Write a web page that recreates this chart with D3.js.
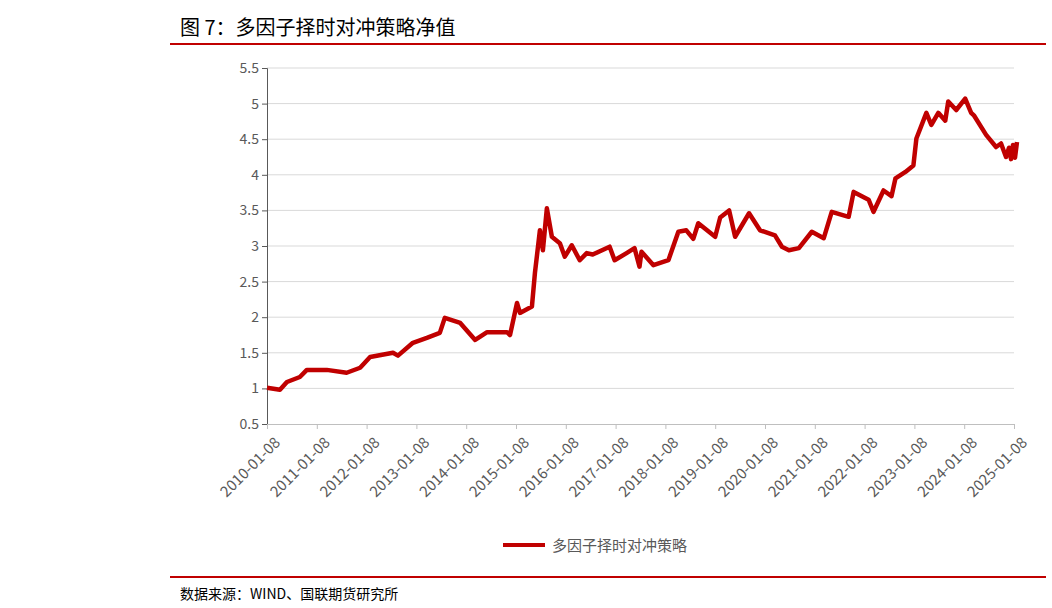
<!DOCTYPE html>
<html><head><meta charset="utf-8">
<script src="https://cdn.jsdelivr.net/npm/d3@7"></script>
<style>body{margin:0;background:#fff}text{font-family:"Noto Sans CJK SC","DejaVu Sans",sans-serif}</style>
</head><body><svg id="chart" width="1052" height="608"></svg>
<script>
// points: fractional year, net value
const years = [2010.0,2010.26,2010.4,2010.66,2010.8,2011.2,2011.6,2011.87,2012.07,2012.53,2012.63,2012.93,2013.21,2013.47,2013.57,2013.88,2014.18,2014.42,2014.82,2014.88,2015.02,2015.08,2015.32,2015.38,2015.48,2015.54,2015.62,2015.72,2015.88,2015.98,2016.12,2016.28,2016.42,2016.54,2016.88,2016.98,2017.22,2017.38,2017.48,2017.52,2017.76,2018.06,2018.26,2018.42,2018.56,2018.66,2019.0,2019.1,2019.28,2019.4,2019.68,2019.9,2020.2,2020.34,2020.48,2020.68,2020.94,2021.18,2021.34,2021.68,2021.78,2022.08,2022.18,2022.38,2022.54,2022.62,2022.82,2022.98,2023.04,2023.24,2023.34,2023.48,2023.62,2023.68,2023.84,2024.02,2024.14,2024.2,2024.44,2024.64,2024.74,2024.84,2024.9,2024.94,2024.98,2025.02,2025.06];
const values = [1.01,0.98,1.09,1.16,1.26,1.26,1.22,1.29,1.44,1.50,1.46,1.64,1.71,1.78,1.99,1.92,1.68,1.79,1.79,1.75,2.20,2.06,2.15,2.62,3.22,2.94,3.53,3.13,3.04,2.85,3.01,2.80,2.90,2.88,2.99,2.80,2.90,2.97,2.71,2.92,2.73,2.80,3.20,3.22,3.10,3.32,3.13,3.40,3.50,3.13,3.46,3.22,3.15,2.99,2.94,2.97,3.20,3.11,3.48,3.41,3.76,3.65,3.48,3.78,3.70,3.95,4.04,4.13,4.51,4.87,4.70,4.87,4.76,5.03,4.91,5.07,4.87,4.83,4.56,4.39,4.44,4.25,4.38,4.22,4.42,4.24,4.46];
const yTicks = [0.5,1,1.5,2,2.5,3,3.5,4,4.5,5,5.5];
const xTickYears = d3.range(2010, 2026);
const seriesName = "多因子择时对冲策略";

const svg = d3.select("#chart");
const red = "#c00000";
const x = d3.scaleLinear().domain([2010, 2025]).range([267, 1014]);
const y = d3.scaleLinear().domain([0.5, 5.5]).range([424, 68]);

// title + rules
svg.append("text").attr("x", 180).attr("y", 35).attr("font-size", 20).attr("fill", "#000").text("图 7：多因子择时对冲策略净值");
svg.append("line").attr("x1", 170).attr("x2", 1046).attr("y1", 44).attr("y2", 44).attr("stroke", red).attr("stroke-width", 2);
svg.append("line").attr("x1", 170).attr("x2", 1046).attr("y1", 577).attr("y2", 577).attr("stroke", red).attr("stroke-width", 2);
svg.append("text").attr("x", 180).attr("y", 599).attr("font-size", 14).text("数据来源：WIND、国联期货研究所");

// grid
svg.append("g").selectAll("line").data(yTicks.slice(1)).join("line")
  .attr("x1", 267).attr("x2", 1014).attr("y1", d => y(d)).attr("y2", d => y(d))
  .attr("stroke", "#d9d9d9").attr("stroke-width", 1);

const yAxis = svg.append("g").attr("transform", "translate(267,0)")
  .call(d3.axisLeft(y).tickValues(yTicks).tickSize(5).tickFormat(d3.format("")));
yAxis.selectAll("text").attr("font-size", 14).attr("fill", "#595959");
yAxis.selectAll("line,path").attr("stroke", "#595959");

const xAxis = svg.append("g").attr("transform", "translate(0,424)")
  .call(d3.axisBottom(x).tickValues(xTickYears).tickSize(5).tickFormat(d => d + "-01-08"));
xAxis.selectAll("line,path").attr("stroke", "#bfbfbf");
xAxis.selectAll("text").attr("font-size", 15).attr("fill", "#595959")
  .attr("text-anchor", "end").attr("x", 0).attr("y", 0)
  .attr("transform", "translate(6,12) rotate(-45)");

const pts = years.map((t, i) => [t, values[i]]);
svg.append("path").datum(pts)
  .attr("d", d3.line().x(d => x(d[0])).y(d => y(d[1])))
  .attr("fill", "none").attr("stroke", red).attr("stroke-width", 4.5).attr("stroke-linejoin", "round");

// legend
svg.append("line").attr("x1", 503).attr("x2", 545).attr("y1", 545).attr("y2", 545).attr("stroke", red).attr("stroke-width", 4);
svg.append("text").attr("x", 552).attr("y", 551).attr("font-size", 15).attr("fill", "#595959").text(seriesName);
</script></body></html>
